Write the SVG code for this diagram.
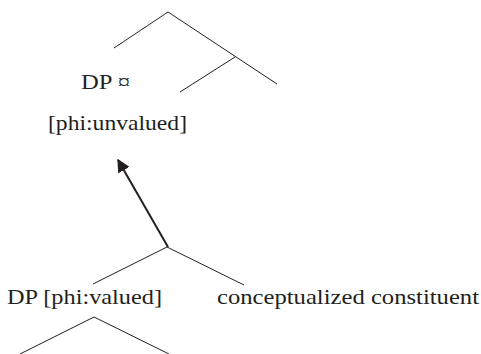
<svg xmlns="http://www.w3.org/2000/svg" width="481" height="354" viewBox="0 0 481 354">
  <style>
    .edge { stroke: #231f20; stroke-width: 1; fill: none; }
    .move { stroke: #231f20; stroke-width: 2; fill: none; }
    text { font-family: "Liberation Serif", "Times New Roman", serif; font-size: 21px; fill: #231f20; }
  </style>
  <defs>
    <marker id="head" viewBox="0 0 10 10" refX="9" refY="5" markerWidth="6.5" markerHeight="6.5" orient="auto" markerUnits="strokeWidth">
      <path d="M0,0 L10,5 L0,10 z" fill="#231f20"/>
    </marker>
  </defs>

  <g id="connectors">
    <!-- upper tree -->
    <line class="edge" x1="168" y1="12" x2="114" y2="48"/>
    <line class="edge" x1="168" y1="12" x2="277" y2="84"/>
    <line class="edge" x1="235" y1="57" x2="180" y2="92"/>
    <!-- lower tree -->
    <line class="edge" x1="167" y1="247" x2="93" y2="284"/>
    <line class="edge" x1="167" y1="247" x2="244" y2="285"/>
    <line class="edge" x1="94" y1="317" x2="20" y2="354"/>
    <line class="edge" x1="94" y1="317" x2="169" y2="354"/>
    <!-- movement arrow -->
    <line class="move" x1="168" y1="247" x2="118" y2="160" marker-end="url(#head)"/>
  </g>

  <g id="dp-unvalued">
    <text x="81" y="89" textLength="49" lengthAdjust="spacingAndGlyphs">DP ¤</text>
    <text x="48" y="130" textLength="139" lengthAdjust="spacingAndGlyphs">[phi:unvalued]</text>
  </g>
  <g id="dp-valued">
    <text x="7" y="304" textLength="155" lengthAdjust="spacingAndGlyphs">DP [phi:valued]</text>
  </g>
  <g id="conceptualized">
    <text x="217" y="304" textLength="262" lengthAdjust="spacingAndGlyphs">conceptualized constituent</text>
  </g>
</svg>
